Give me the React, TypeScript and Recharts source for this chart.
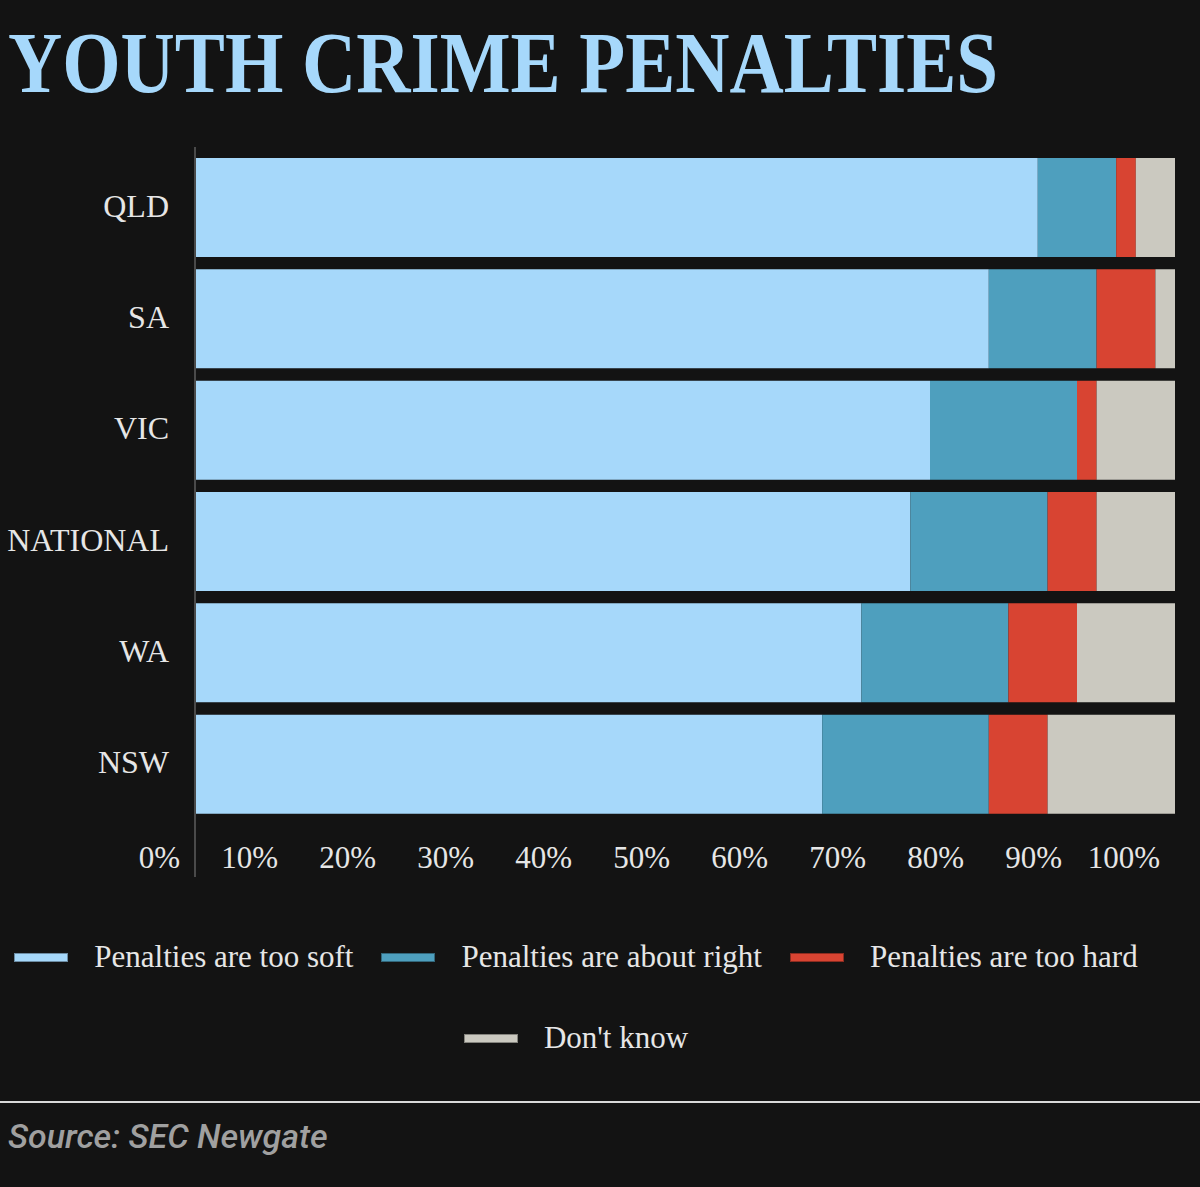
import React from "react";
import { BarChart, Bar, XAxis, YAxis } from "recharts";

// survey shares per region, in percent
const regions = ["QLD", "SA", "VIC", "NATIONAL", "WA", "NSW"];
const tooSoft = [86, 81, 75, 73, 68, 64];
const aboutRight = [8, 11, 15, 14, 15, 17];
const tooHard = [2, 6, 2, 5, 7, 6];
const dontKnow = [4, 2, 8, 8, 10, 13];
const xTicks = [0, 10, 20, 30, 40, 50, 60, 70, 80, 90, 100];

const series = [
  { key: "soft", name: "Penalties are too soft", color: "#a6d8fa", values: tooSoft },
  { key: "right", name: "Penalties are about right", color: "#4e9fbe", values: aboutRight },
  { key: "hard", name: "Penalties are too hard", color: "#d84432", values: tooHard },
  { key: "dk", name: "Don't know", color: "#cbc9c0", values: dontKnow },
];

const data = regions.map((region, i) => {
  const row: Record<string, string | number> = { region };
  series.forEach((s) => {
    row[s.key] = s.values[i];
  });
  return row;
});

const BG = "#131313";
const TEXT = "#e6e6e6";
const SERIF = "'Liberation Serif', 'Times New Roman', serif";

const CategoryTick = (props: any) => {
  const { x, y, payload } = props;
  return (
    <text x={x - 26} y={y - 2} textAnchor="end" dominantBaseline="central" fill={TEXT} fontSize={32} fontFamily={SERIF}>
      {payload.value}
    </text>
  );
};

const PercentTick = (props: any) => {
  const { x, y, payload } = props;
  return (
    <text x={x - 15} y={y + 37} textAnchor="end" dominantBaseline="central" fill={TEXT} fontSize={31} fontFamily={SERIF}>
      {payload.value}%
    </text>
  );
};

export default function App() {
  return (
    <div style={{ position: "absolute", left: 0, top: 0, width: 1200, height: 1187, background: BG, overflow: "hidden" }}>
      <svg width={1200} height={120} style={{ position: "absolute", left: 0, top: 0 }}>
        <text
          x={8}
          y={92}
          fill="#a6d8fb"
          fontSize={86}
          fontWeight={700}
          fontFamily={SERIF}
          textLength={990}
          lengthAdjust="spacingAndGlyphs"
        >
          YOUTH CRIME PENALTIES
        </text>
      </svg>

      <div style={{ position: "absolute", left: 0, top: 0 }}>
        <BarChart
          width={1200}
          height={880}
          layout="vertical"
          data={data}
          margin={{ top: 152, right: 25, bottom: 3, left: 0 }}
          barCategoryGap={6}
        >
          <XAxis
            type="number"
            domain={[0, 100]}
            ticks={xTicks}
            interval={0}
            axisLine={false}
            tickLine={false}
            tickSize={0}
            tickMargin={0}
            height={57}
            tick={PercentTick}
          />
          <YAxis
            type="category"
            dataKey="region"
            width={195}
            axisLine={false}
            tickLine={false}
            tickSize={0}
            tickMargin={0}
            interval={0}
            tick={CategoryTick}
          />
          {series.map((s) => (
            <Bar key={s.key} dataKey={s.key} name={s.name} stackId="a" fill={s.color} isAnimationActive={false} />
          ))}
        </BarChart>
      </div>

      {/* left axis rule, runs past the bars into the tick row */}
      <div style={{ position: "absolute", left: 194, top: 147, width: 2, height: 730, background: "#4a4a4a" }} />

      <div
        style={{
          position: "absolute",
          left: 0,
          top: 937,
          width: 1152,
          display: "flex",
          flexWrap: "wrap",
          justifyContent: "center",
          columnGap: 28,
          rowGap: 41,
        }}
      >
        {series.map((s) => (
          <div key={s.key} style={{ display: "flex", alignItems: "center", height: 40 }}>
            <div
              style={{
                width: 52,
                height: 7,
                background: s.color,
                border: "1px solid rgba(0,0,0,0.35)",
                marginRight: 26,
              }}
            />
            <span style={{ fontFamily: SERIF, fontSize: 31, color: TEXT, lineHeight: "40px", whiteSpace: "nowrap" }}>
              {s.name}
            </span>
          </div>
        ))}
      </div>

      <div style={{ position: "absolute", left: 0, top: 1101, width: 1200, height: 2, background: "#d9d9d9" }} />
      <div
        style={{
          position: "absolute",
          left: 8,
          top: 1116,
          lineHeight: "40px",
          fontFamily: "Roboto, sans-serif",
          fontStyle: "italic",
          fontWeight: 500,
          fontSize: 34,
          color: "#a0a0a0",
        }}
      >
        Source: SEC Newgate
      </div>
    </div>
  );
}
